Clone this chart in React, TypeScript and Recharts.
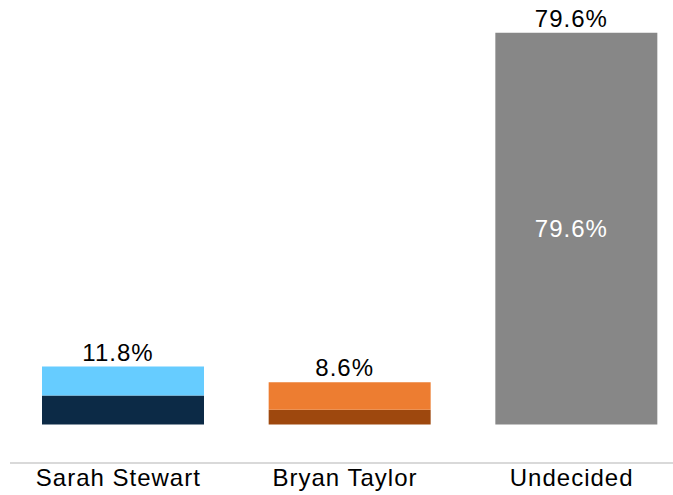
import React from "react";
import { BarChart, Bar, XAxis, YAxis, Cell, LabelList } from "recharts";

// values (percent)
const candidates = ["Sarah Stewart", "Bryan Taylor", "Undecided"];
const firmSupport = [5.9, 3.0, 0];
const leaningSupport = [5.9, 5.6, 79.6];
const totalLabels = [11.8, 8.6, 79.6];
const insideLabels = [null, null, 79.6];

const firmColors = ["#0C2A46", "#9E480E", "#878787"];
const leaningColors = ["#66CCFF", "#ED7D31", "#878787"];

const fmt = (v: any) => (v == null ? "" : `${Number(v).toFixed(1)}%`);

const data = candidates.map((name, i) => ({
    name,
    firm: firmSupport[i],
    leaning: leaningSupport[i],
    total: totalLabels[i],
    inside: insideLabels[i],
}));

const App: React.FC = () => {
    return (
        <div style={{ position: "absolute", left: 0, top: 0, width: 673, height: 495, overflow: "hidden", background: "#fff" }}>
            <BarChart
                width={690}
                height={495}
                data={data}
                margin={{ top: 21, right: 0, bottom: 2, left: 10 }}
                style={{ fontFamily: "'Liberation Sans', Arial, sans-serif" }}
            >
                <YAxis hide domain={[-7.8, 82]} />
                <XAxis
                    dataKey="name"
                    interval={0}
                    height={30}
                    tickLine={false}
                    tickMargin={0}
                    axisLine={{ stroke: "#D9D9D9", strokeWidth: 2 }}
                    tick={{ fill: "#000", fontSize: 24, dx: -5, letterSpacing: 1 }}
                />
                <Bar dataKey="firm" stackId="a" barSize={162} isAnimationActive={false}>
                    {data.map((_, i) => (
                        <Cell key={i} fill={firmColors[i]} />
                    ))}
                </Bar>
                <Bar dataKey="leaning" stackId="a" barSize={162} isAnimationActive={false}>
                    {data.map((_, i) => (
                        <Cell key={i} fill={leaningColors[i]} />
                    ))}
                    <LabelList dataKey="total" position="top" offset={6} formatter={fmt} fill="#000" fontSize={24} dx={-5} letterSpacing={1} />
                    <LabelList dataKey="inside" position="center" formatter={fmt} fill="#fff" fontSize={24} dx={-5} letterSpacing={1} />
                </Bar>
            </BarChart>
        </div>
    );
};

export default App;
